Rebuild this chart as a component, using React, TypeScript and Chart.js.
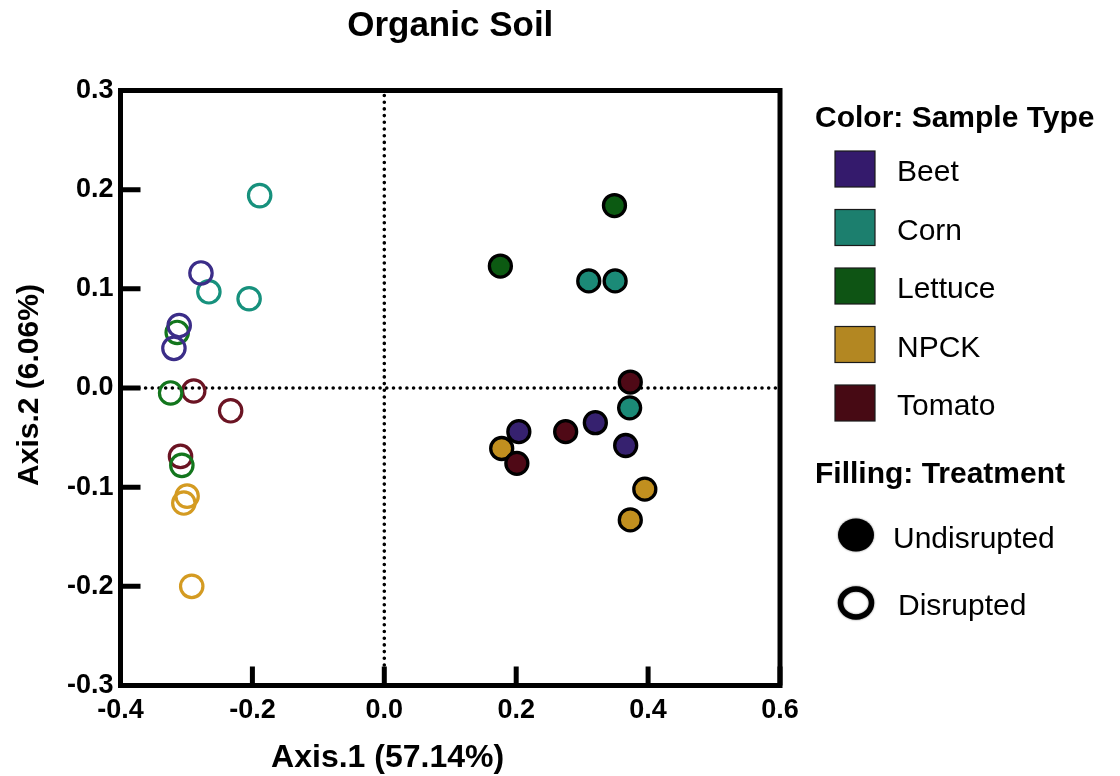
import React, { useEffect, useRef } from "react";
import { Chart, registerables } from "chart.js";

Chart.register(...registerables);

// ---- Data ----
const categories = ["Beet", "Corn", "Lettuce", "NPCK", "Tomato"];
const treatments = ["Undisrupted", "Disrupted"];

const beetUndisrupted = [
  { x: 0.204, y: -0.044 },
  { x: 0.320, y: -0.035 },
  { x: 0.366, y: -0.058 },
];
const beetDisrupted = [
  { x: -0.278, y: 0.116 },
  { x: -0.311, y: 0.063 },
  { x: -0.319, y: 0.040 },
];
const cornUndisrupted = [
  { x: 0.310, y: 0.108 },
  { x: 0.350, y: 0.108 },
  { x: 0.372, y: -0.020 },
];
const cornDisrupted = [
  { x: -0.189, y: 0.194 },
  { x: -0.266, y: 0.097 },
  { x: -0.205, y: 0.090 },
];
const lettuceUndisrupted = [
  { x: 0.349, y: 0.184 },
  { x: 0.176, y: 0.123 },
];
const lettuceDisrupted = [
  { x: -0.314, y: 0.056 },
  { x: -0.324, y: -0.005 },
  { x: -0.307, y: -0.078 },
];
const npckUndisrupted = [
  { x: 0.178, y: -0.061 },
  { x: 0.395, y: -0.102 },
  { x: 0.373, y: -0.133 },
];
const npckDisrupted = [
  { x: -0.299, y: -0.109 },
  { x: -0.304, y: -0.116 },
  { x: -0.292, y: -0.200 },
];
const tomatoUndisrupted = [
  { x: 0.373, y: 0.006 },
  { x: 0.201, y: -0.076 },
  { x: 0.275, y: -0.044 },
];
const tomatoDisrupted = [
  { x: -0.289, y: -0.003 },
  { x: -0.233, y: -0.023 },
  { x: -0.309, y: -0.069 },
];

const undisruptedSeries = [beetUndisrupted, cornUndisrupted, lettuceUndisrupted, npckUndisrupted, tomatoUndisrupted];
const disruptedSeries = [beetDisrupted, cornDisrupted, lettuceDisrupted, npckDisrupted, tomatoDisrupted];

const xTickValues = [-0.4, -0.2, 0.0, 0.2, 0.4, 0.6];
const yTickValues = [-0.3, -0.2, -0.1, 0.0, 0.1, 0.2, 0.3];

const chartTitle = "Organic Soil";
const xAxisTitle = "Axis.1 (57.14%)";
const yAxisTitle = "Axis.2 (6.06%)";
const colorLegendTitle = "Color: Sample Type";
const fillLegendTitle = "Filling: Treatment";

// ---- Styles ----
const fillColors = ["#36216f", "#1b8a77", "#0c5a12", "#c18f1f", "#4f0916"];
const ringColors = ["#3b2d88", "#17917d", "#13761d", "#d49b22", "#6b1423"];
const swatchColors = ["#341a6c", "#1c7f6e", "#0e5414", "#b38722", "#470a14"];

const FONT = "'Liberation Sans', Arial, Helvetica, sans-serif";

const decorPlugin = {
  id: "decor",
  beforeDatasetsDraw(chart: any) {
    const { ctx, chartArea: a, scales } = chart;
    const xs = scales.x;
    const ys = scales.y;
    ctx.save();
    // dotted zero lines
    const x0 = xs.getPixelForValue(0);
    const y0 = ys.getPixelForValue(0);
    ctx.strokeStyle = "#000";
    ctx.lineWidth = 3.6;
    ctx.lineCap = "round";
    ctx.setLineDash([0, 6.7]);
    ctx.beginPath();
    ctx.moveTo(x0, a.top + 5);
    ctx.lineTo(x0, a.bottom - 3);
    ctx.moveTo(a.left + 5, y0);
    ctx.lineTo(a.right - 3, y0);
    ctx.stroke();
    ctx.setLineDash([]);
    // frame
    ctx.lineCap = "butt";
    ctx.lineWidth = 5;
    ctx.strokeRect(a.left, a.top, a.right - a.left, a.bottom - a.top);
    // inward ticks
    ctx.beginPath();
    ys.ticks.forEach((t: any) => {
      const py = ys.getPixelForValue(t.value);
      ctx.moveTo(a.left, py);
      ctx.lineTo(a.left + 20, py);
    });
    xs.ticks.forEach((t: any) => {
      const px = xs.getPixelForValue(t.value);
      ctx.moveTo(px, a.bottom);
      ctx.lineTo(px, a.bottom - 19);
    });
    ctx.stroke();
    ctx.restore();
  },
  afterDraw(chart: any) {
    const { ctx, chartArea: a } = chart;
    ctx.save();
    ctx.fillStyle = "#000";
    // title
    ctx.font = `bold 35px ${FONT}`;
    ctx.textAlign = "center";
    ctx.textBaseline = "alphabetic";
    ctx.fillText(chartTitle, (a.left + a.right) / 2, 36);
    // x axis title
    ctx.font = `bold 32px ${FONT}`;
    ctx.fillText(xAxisTitle, a.left + (a.right - a.left) * 0.405, 767);
    // y axis title
    ctx.save();
    ctx.translate(38, (a.top + a.bottom) / 2 - 3);
    ctx.rotate(-Math.PI / 2);
    ctx.font = `bold 30px ${FONT}`;
    ctx.textAlign = "center";
    ctx.fillText(yAxisTitle, 0, 0);
    ctx.restore();

    // legend
    const lx = 815;
    ctx.textAlign = "left";
    ctx.font = `bold 30px ${FONT}`;
    ctx.fillText(colorLegendTitle, lx, 127);
    ctx.font = `30px ${FONT}`;
    categories.forEach((c, i) => {
      const cy = 169 + i * 58.5;
      ctx.fillStyle = swatchColors[i];
      ctx.fillRect(835, cy - 18, 40, 36);
      ctx.strokeStyle = "#1a1a1a";
      ctx.lineWidth = 1.2;
      ctx.strokeRect(835, cy - 18, 40, 36);
      ctx.fillStyle = "#000";
      ctx.fillText(c, 897, cy + 12);
    });
    ctx.font = `bold 30px ${FONT}`;
    ctx.fillText(fillLegendTitle, lx, 483);
    // treatment markers
    ctx.font = `30px ${FONT}`;
    ctx.save();
    ctx.shadowColor = "rgba(0,0,0,0.6)";
    ctx.shadowBlur = 2;
    ctx.beginPath();
    ctx.ellipse(856, 535, 18, 16.5, 0, 0, Math.PI * 2);
    ctx.fillStyle = "#000";
    ctx.fill();
    ctx.beginPath();
    ctx.ellipse(856, 603, 15.5, 14, 0, 0, Math.PI * 2);
    ctx.strokeStyle = "#000";
    ctx.lineWidth = 5.5;
    ctx.stroke();
    ctx.restore();
    ctx.fillStyle = "#000";
    ctx.fillText(treatments[0], 893, 548);
    ctx.fillText(treatments[1], 898, 615);
    ctx.restore();
  },
};

export default function App() {
  const ref = useRef<HTMLCanvasElement | null>(null);

  useEffect(() => {
    if (!ref.current) return;
    const datasets: any[] = [];
    categories.forEach((c, i) => {
      datasets.push({
        label: `${c} ${treatments[0]}`,
        data: undisruptedSeries[i],
        backgroundColor: fillColors[i],
        borderColor: "#000",
        borderWidth: 3.3,
        pointRadius: 11,
        pointHoverRadius: 11,
        order: 10 - i,
      });
    });
    categories.forEach((c, i) => {
      datasets.push({
        label: `${c} ${treatments[1]}`,
        data: disruptedSeries[i],
        backgroundColor: "rgba(0,0,0,0)",
        borderColor: ringColors[i],
        borderWidth: 3.2,
        pointRadius: 11.2,
        pointHoverRadius: 11.2,
        order: i,
      });
    });

    const chart = new Chart(ref.current, {
      type: "scatter",
      data: { datasets },
      plugins: [decorPlugin],
      options: {
        animation: false,
        responsive: false,
        devicePixelRatio: 1,
        layout: { padding: { left: 0, right: 340, top: 90.5, bottom: 0 } },
        plugins: {
          legend: { display: false },
          tooltip: { enabled: false },
          title: { display: false },
        },
        scales: {
          x: {
            type: "linear",
            min: -0.4,
            max: 0.6,
            afterFit: (s: any) => {
              s.height = 90.5;
            },
            afterBuildTicks: (s: any) => {
              s.ticks = xTickValues.map((v) => ({ value: v }));
            },
            grid: { display: false, drawTicks: false },
            border: { display: false },
            ticks: {
              autoSkip: false,
              maxRotation: 0,
              padding: 9,
              color: "#000",
              font: { family: FONT, size: 27, weight: "bold" },
              callback: (v: any) => Number(v).toFixed(1),
            },
          },
          y: {
            type: "linear",
            min: -0.3,
            max: 0.3,
            afterFit: (s: any) => {
              s.width = 120.5;
            },
            afterBuildTicks: (s: any) => {
              s.ticks = yTickValues.map((v) => ({ value: v }));
            },
            grid: { display: false, drawTicks: false },
            border: { display: false },
            ticks: {
              autoSkip: false,
              padding: 7,
              color: "#000",
              font: { family: FONT, size: 27, weight: "bold" },
              callback: (v: any) => Number(v).toFixed(1),
            },
          },
        },
      },
    });
    return () => chart.destroy();
  }, []);

  return (
    <div style={{ position: "absolute", left: 0, top: 0, width: 1120, height: 776, background: "#fff" }}>
      <canvas ref={ref} width={1120} height={776} style={{ display: "block", width: 1120, height: 776 }} />
    </div>
  );
}
